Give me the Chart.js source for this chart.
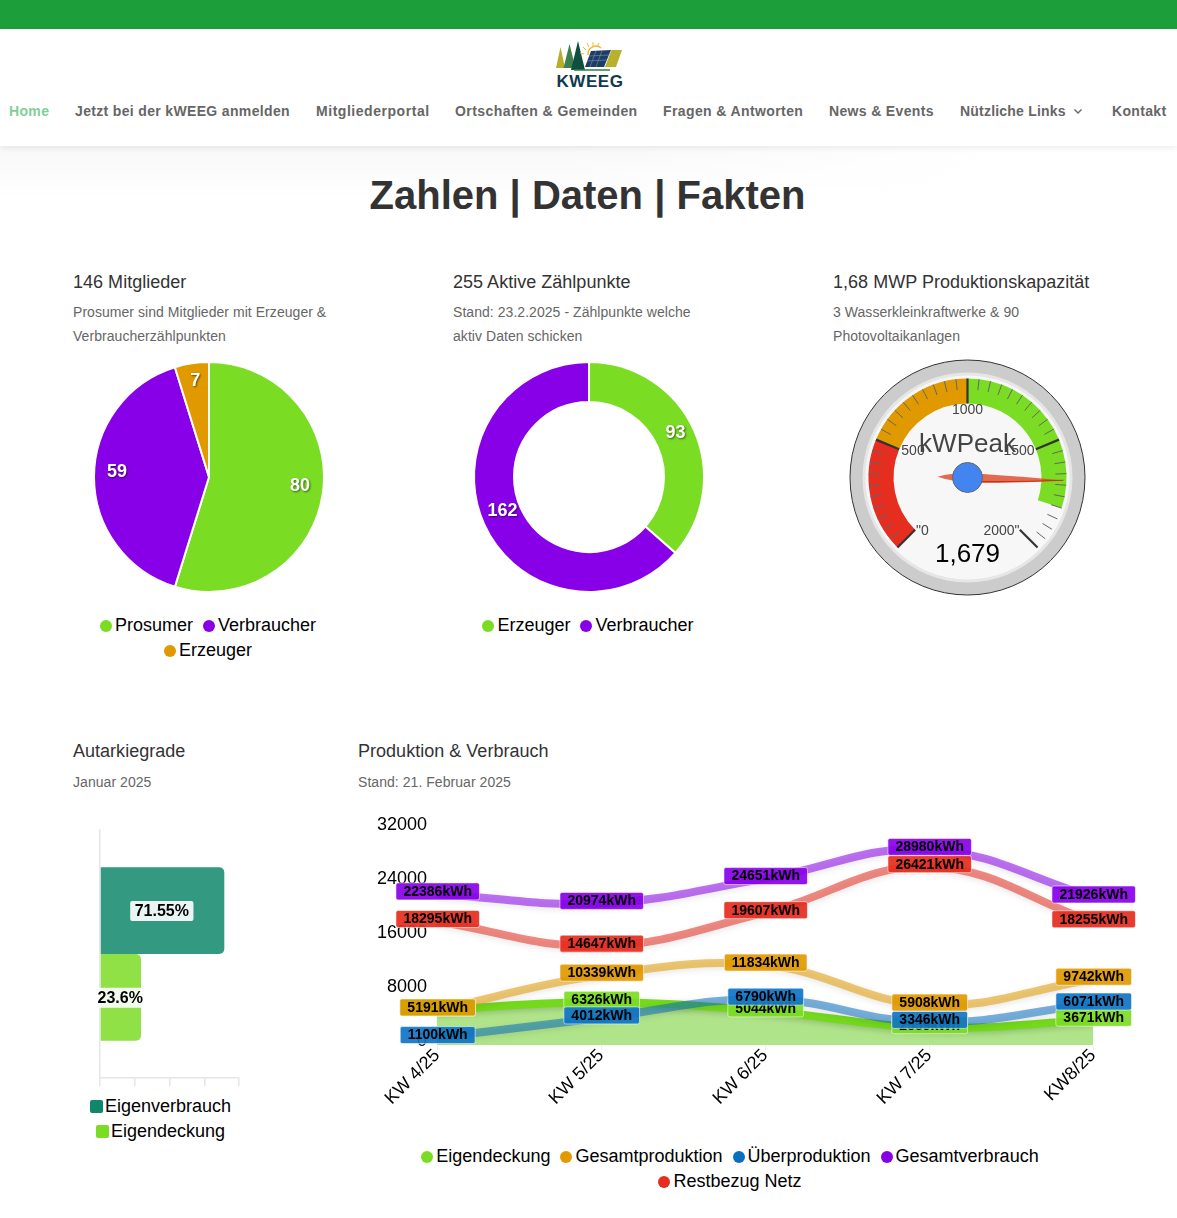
<!DOCTYPE html>
<html lang="de">
<head>
<meta charset="utf-8">
<title>Zahlen | Daten | Fakten</title>
<script src="https://cdn.jsdelivr.net/npm/chart.js@4"></script>
<style>
html,body{margin:0;padding:0;background:#fff;overflow:hidden}
body{position:relative;width:1177px;height:1218px;font-family:"Liberation Sans",Arial,sans-serif;color:#333}
.abs{position:absolute;white-space:nowrap}
#bar{left:0;top:0;width:1177px;height:29px;background:#1c9f3b}
#head{left:0;top:29px;width:1177px;height:117px;background:#fff;box-shadow:0 2px 6px rgba(0,0,0,.08);z-index:2}
#fade{left:0;top:146px;width:1177px;height:55px;background:linear-gradient(to right,rgba(255,255,255,0) 45%,#fff 85%),linear-gradient(to bottom,#f8f8f8,#fff)}
.nav{top:101px;line-height:20px;font-size:14px;font-weight:bold;color:#666;letter-spacing:.34px;z-index:3}
h1{margin:0;left:0;width:1175px;text-align:center;top:170px;line-height:50px;font-size:40px;font-weight:bold;color:#333}
.h3{font-size:18px;line-height:22px;color:#333;letter-spacing:.02px}
.sub{font-size:14px;line-height:24px;color:#666;letter-spacing:.05px}
canvas{position:absolute;display:block}
.lg{position:absolute;display:flex;flex-wrap:wrap;justify-content:center;column-gap:10px;font-size:18px;line-height:25px;color:#000}
.lg span{display:inline-flex;align-items:center;white-space:nowrap}
.lg i{display:inline-block;width:12px;height:12px;border-radius:50%;margin-right:3px}
.lg.sq i{width:13px;height:13px;border-radius:2px;margin-right:2px}
</style>
</head>
<body>
<div class="abs" id="bar"></div>
<div class="abs" id="head"></div>
<div class="abs" id="fade"></div>

<svg class="abs" style="left:552px;top:38px;z-index:3" width="76" height="54" viewBox="0 0 76 54">
  <polygon points="8.5,9 13,30 4,30" fill="#b6ad2b"/>
  <polygon points="17.5,6 23.5,30 11.5,30" fill="#3f7f4e"/>
  <polygon points="26,3 33,32 19,32" fill="#0f4f3f"/>
  <g stroke="#f0b93a" stroke-width="1"><path d="M34 12 L31 9"/><path d="M37 9 L35 5"/><path d="M41 8 L41 4"/><path d="M45 9 L47 5"/><path d="M32 16 L28 15"/></g>
  <path d="M36 17 A8 8 0 0 1 49 10" stroke="#f0b93a" stroke-width="1.5" fill="none"/>
  <polygon points="39,13 59,12 52,29 33,29" fill="#1d3c66"/>
  <g stroke="#7f93ad" stroke-width=".6"><path d="M37 18 L57 17"/><path d="M35 23 L55 22"/><path d="M44 13 L38 29"/><path d="M50 12.6 L44 29"/></g>
  <polygon points="59.5,12 70,12 64,29 53,29" fill="#b9b02f"/>
  <path d="M22 32 H58" stroke="#2f7f3f" stroke-width="1.5"/>
  <text x="38" y="49" text-anchor="middle" font-family="Liberation Sans" font-weight="bold" font-size="17" letter-spacing=".6" fill="#10384f">KWEEG</text>
</svg>

<div class="abs nav" style="left:9px;color:#7fcf96">Home</div>
<div class="abs nav" style="left:75px">Jetzt bei der kWEEG anmelden</div>
<div class="abs nav" style="left:316px;letter-spacing:.54px">Mitgliederportal</div>
<div class="abs nav" style="left:455px;letter-spacing:.43px">Ortschaften &amp; Gemeinden</div>
<div class="abs nav" style="left:663px;letter-spacing:.39px">Fragen &amp; Antworten</div>
<div class="abs nav" style="left:829px">News &amp; Events</div>
<div class="abs nav" style="left:960px;letter-spacing:.21px">Nützliche Links</div>
<svg class="abs" style="left:1073px;top:108px;z-index:3" width="10" height="7"><path d="M1.5 1.5 L5 5 L8.5 1.5" stroke="#666" stroke-width="1.4" fill="none"/></svg>
<div class="abs nav" style="left:1112px">Kontakt</div>

<h1 class="abs">Zahlen | Daten | Fakten</h1>

<div class="abs h3" style="left:73px;top:271px">146 Mitglieder</div>
<div class="abs sub" style="left:73px;top:300px">Prosumer sind Mitglieder mit Erzeuger &amp;<br>Verbraucherzählpunkten</div>
<div class="abs h3" style="left:453px;top:271px">255 Aktive Zählpunkte</div>
<div class="abs sub" style="left:453px;top:300px">Stand: 23.2.2025 - Zählpunkte welche<br>aktiv Daten schicken</div>
<div class="abs h3" style="left:833px;top:271px">1,68 MWP Produktionskapazität</div>
<div class="abs sub" style="left:833px;top:300px">3 Wasserkleinkraftwerke &amp; 90<br>Photovoltaikanlagen</div>
<div class="abs h3" style="left:73px;top:740px">Autarkiegrade</div>
<div class="abs sub" style="left:73px;top:770px">Januar 2025</div>
<div class="abs h3" style="left:358px;top:740px">Produktion &amp; Verbrauch</div>
<div class="abs sub" style="left:358px;top:770px">Stand: 21. Februar 2025</div>

<canvas id="pieMembers" style="left:73px;top:356px;width:272px;height:242px"></canvas>
<div class="lg" id="lgMembers" style="left:72px;top:613px;width:272px"></div>
<canvas id="pieMeters" style="left:453px;top:356px;width:272px;height:242px"></canvas>
<div class="lg" id="lgMeters" style="left:452px;top:613px;width:272px"></div>
<canvas id="gauge" style="left:833px;top:357px;width:269px;height:241px"></canvas>
<canvas id="autarky" style="left:90px;top:820px;width:160px;height:266px"></canvas>
<div class="lg sq" id="lgAutarky" style="left:73px;top:1094px;width:175px"></div>
<canvas id="energy" style="left:320px;top:810px;width:820px;height:310px"></canvas>
<div class="lg" id="lgEnergy" style="left:380px;top:1144px;width:700px"></div>

<script>
// ---------- data ----------
const memberLabels = ['Prosumer', 'Verbraucher', 'Erzeuger'];
const memberValues = [80, 59, 7];
const meterLabels = ['Erzeuger', 'Verbraucher'];
const meterValues = [93, 162];

const gaugeValue = 1679;
const gaugeMax = 2000;
const gaugeBands = [500, 500, 800, 200, 666.67]; // red, orange, green, open, hidden part of the dial
const gaugeTickLabels = ['"0', '500', '1000', '1500', '2000"'];
const gaugeTitle = 'kWPeak';
const gaugeReadout = '1,679';

const autarkyCategory = ['Januar 2025'];
const autarkyOwnUse = [71.55];
const autarkyCoverage = [23.6];

const weeks = ['KW 4/25', 'KW 5/25', 'KW 6/25', 'KW 7/25', 'KW8/25'];
const eigendeckung = [5191, 6326, 5044, 2559, 3671];
const gesamtproduktion = [5191, 10339, 11834, 5908, 9742];
const ueberproduktion = [1100, 4012, 6790, 3346, 6071];
const gesamtverbrauch = [22386, 20974, 24651, 28980, 21926];
const restbezug = [18295, 14647, 19607, 26421, 18255];
const energyTicks = [0, 8000, 16000, 24000, 32000];

// ---------- palette ----------
const GREEN = '#7bdc24', PURPLE = '#8800e8', ORANGE = '#e09a00', BLUE = '#0b6fc0', RED = '#e52d20', TEAL = '#10876b';
const FONT = '"Liberation Sans", Arial, sans-serif';
function rgba(hex, a) {
  const n = parseInt(hex.slice(1), 16);
  return `rgba(${n >> 16},${(n >> 8) & 255},${n & 255},${a})`;
}
Chart.defaults.animation = false;
Chart.defaults.font.family = FONT;
Chart.defaults.color = '#000';
Chart.defaults.devicePixelRatio = 1;
Chart.defaults.responsive = false;

function legend(id, labels, colors) {
  document.getElementById(id).innerHTML = labels.map((t, i) =>
    `<span><i style="background:${colors[i]}"></i>${t}</span>`).join('');
}
function setSize(id) {
  const c = document.getElementById(id);
  c.width = parseFloat(c.style.width);
  c.height = parseFloat(c.style.height);
  return c;
}

// ---------- value labels on the round charts ----------
const arcValueLabels = {
  id: 'arcValueLabels',
  afterDatasetsDraw(chart) {
    const { ctx } = chart;
    const meta = chart.getDatasetMeta(0);
    const values = chart.data.datasets[0].data;
    ctx.save();
    ctx.font = 'bold 18px ' + FONT;
    ctx.textAlign = 'center';
    ctx.textBaseline = 'middle';
    ctx.fillStyle = '#fff';
    ctx.shadowColor = 'rgba(0,0,0,.55)';
    ctx.shadowBlur = 2;
    ctx.shadowOffsetX = 1;
    ctx.shadowOffsetY = 1;
    meta.data.forEach((arc, i) => {
      const p = arc.getProps(['x', 'y', 'startAngle', 'endAngle', 'innerRadius', 'outerRadius'], true);
      const mid = (p.startAngle + p.endAngle) / 2;
      const r = p.innerRadius > 0 ? (p.innerRadius + p.outerRadius) / 2 : p.outerRadius * 0.8;
      ctx.fillText(values[i], p.x + Math.cos(mid) * r, p.y + Math.sin(mid) * r - 5);
    });
    ctx.restore();
  }
};

const roundOptions = (cutout) => ({
  radius: 115,
  cutout,
  layout: { padding: 0 },
  plugins: { legend: { display: false }, tooltip: { enabled: false } }
});

setSize('pieMembers');
new Chart('pieMembers', {
  type: 'pie',
  data: { labels: memberLabels, datasets: [{ data: memberValues, backgroundColor: [GREEN, PURPLE, ORANGE], borderColor: '#fff', borderWidth: 2 }] },
  options: roundOptions(0),
  plugins: [arcValueLabels]
});
legend('lgMembers', memberLabels, [GREEN, PURPLE, ORANGE]);

setSize('pieMeters');
new Chart('pieMeters', {
  type: 'doughnut',
  data: { labels: meterLabels, datasets: [{ data: meterValues, backgroundColor: [GREEN, PURPLE], borderColor: '#fff', borderWidth: 2 }] },
  options: roundOptions('65.2%'),
  plugins: [arcValueLabels]
});
legend('lgMeters', meterLabels, [GREEN, PURPLE]);

// ---------- gauge ----------
const dialAngle = v => (-225 + v / gaugeMax * 270) * Math.PI / 180;
const gaugeDial = {
  id: 'gaugeDial',
  beforeDatasetsDraw(chart) {
    const { ctx } = chart;
    const arc = chart.getDatasetMeta(0).data[0];
    const cx = arc.x, cy = arc.y;
    const disc = (r, fill, stroke) => {
      ctx.beginPath(); ctx.arc(cx, cy, r, 0, Math.PI * 2);
      ctx.fillStyle = fill; ctx.fill();
      if (stroke) { ctx.strokeStyle = stroke; ctx.lineWidth = 1; ctx.stroke(); }
    };
    ctx.save();
    disc(117.5, '#ccc', '#333');
    disc(105, '#e6e6e6');
    disc(102, '#f7f7f7');
    ctx.restore();
  },
  afterDatasetsDraw(chart) {
    const { ctx } = chart;
    const arc = chart.getDatasetMeta(0).data[0];
    const cx = arc.x, cy = arc.y;
    ctx.save();
    // ticks
    for (let v = 0; v <= gaugeMax; v += 50) {
      const major = v % 500 === 0;
      const a = dialAngle(v);
      const r0 = major ? 74 : 88, r1 = 99;
      ctx.beginPath();
      ctx.moveTo(cx + Math.cos(a) * r0, cy + Math.sin(a) * r0);
      ctx.lineTo(cx + Math.cos(a) * r1, cy + Math.sin(a) * r1);
      ctx.strokeStyle = major ? '#333' : '#666';
      ctx.lineWidth = major ? 2.2 : 1;
      ctx.stroke();
    }
    // tick labels
    const offs = [[-45, 54], [-54.5, -26], [0, -67], [51.5, -26], [34, 54]];
    ctx.textAlign = 'center';
    ctx.textBaseline = 'middle';
    ctx.font = '14px ' + FONT;
    ctx.fillStyle = '#444';
    gaugeTickLabels.forEach((t, i) => ctx.fillText(t, cx + offs[i][0], cy + offs[i][1]));
    ctx.font = '26px ' + FONT;
    ctx.fillStyle = '#444';
    ctx.fillText(gaugeTitle, cx, cy - 33);
    ctx.fillStyle = '#000';
    ctx.fillText(gaugeReadout, cx, cy + 77);
    // needle
    const a = dialAngle(gaugeValue);
    ctx.translate(cx, cy);
    ctx.rotate(a);
    ctx.beginPath();
    ctx.moveTo(-30, 0);
    ctx.quadraticCurveTo(-10, -6, 12, -4);
    ctx.quadraticCurveTo(60, -2, 96, 0);
    ctx.quadraticCurveTo(40, 5, 10, 5);
    ctx.quadraticCurveTo(-14, 5, -30, 0);
    ctx.fillStyle = 'rgba(220,70,35,.8)';
    ctx.fill();
    ctx.beginPath();
    ctx.moveTo(14, 3.6);
    ctx.quadraticCurveTo(60, 2.6, 96, 0);
    ctx.strokeStyle = '#c9310f';
    ctx.lineWidth = 1;
    ctx.stroke();
    ctx.rotate(-a);
    ctx.beginPath();
    ctx.arc(0, 0, 15, 0, Math.PI * 2);
    ctx.fillStyle = '#4385f0';
    ctx.fill();
    ctx.strokeStyle = '#666';
    ctx.lineWidth = 1;
    ctx.stroke();
    ctx.restore();
  }
};
setSize('gauge');
new Chart('gauge', {
  type: 'doughnut',
  data: { datasets: [{ data: gaugeBands, backgroundColor: [RED, ORANGE, GREEN, 'rgba(0,0,0,0)', 'rgba(0,0,0,0)'], borderWidth: 0 }] },
  options: {
    rotation: -135,
    circumference: 360,
    radius: 99,
    cutout: '74.7%',
    plugins: { legend: { display: false }, tooltip: { enabled: false } }
  },
  plugins: [gaugeDial]
});

// ---------- boxed labels on bar and line charts ----------
function valueBox(ctx, text, x, y, fill, h, pad, stroke) {
  const w = ctx.measureText(text).width + pad * 2;
  ctx.beginPath();
  ctx.roundRect(x - w / 2, y - h / 2, w, h, 2);
  ctx.fillStyle = fill;
  ctx.fill();
  if (stroke) { ctx.strokeStyle = stroke; ctx.lineWidth = 1; ctx.stroke(); }
  ctx.fillStyle = '#000';
  ctx.fillText(text, x, y + 0.5);
}

const barLabels = {
  id: 'barLabels',
  afterDatasetsDraw(chart) {
    const { ctx } = chart;
    ctx.save();
    ctx.font = 'bold 16px ' + FONT;
    ctx.textAlign = 'center';
    ctx.textBaseline = 'middle';
    chart.data.datasets.forEach((ds, i) => {
      const bar = chart.getDatasetMeta(i).data[0];
      const p = bar.getProps(['x', 'y', 'base'], true);
      valueBox(ctx, ds.data[0] + '%', (p.x + p.base) / 2 - 0.7, p.y + 0.4, 'rgba(255,255,255,.9)', 20, 4.5);
    });
    ctx.restore();
  }
};
setSize('autarky');
new Chart('autarky', {
  type: 'bar',
  data: {
    labels: autarkyCategory,
    datasets: [
      { label: 'Eigenverbrauch', data: autarkyOwnUse, backgroundColor: 'rgba(16,135,107,.85)', borderRadius: 5 },
      { label: 'Eigendeckung', data: autarkyCoverage, backgroundColor: 'rgba(123,220,36,.85)', borderRadius: 5 }
    ]
  },
  options: {
    indexAxis: 'y',
    layout: { padding: { left: 10, right: 11, top: 10, bottom: 0 }, autoPadding: false },
    datasets: { bar: { categoryPercentage: 0.7, barPercentage: 1 } },
    scales: {
      x: {
        min: 0, max: 80,
        ticks: { display: false, stepSize: 20 },
        grid: { drawOnChartArea: false, tickLength: 8, color: '#e6e6e6', lineWidth: 1.5 },
        border: { color: '#e6e6e6', width: 1.5 },
        afterFit(s) { s.height = 8; }
      },
      y: {
        ticks: { display: false },
        grid: { display: false },
        border: { color: '#e6e6e6', width: 1.5 },
        afterFit(s) { s.width = 0; }
      }
    },
    plugins: { legend: { display: false }, tooltip: { enabled: false } }
  },
  plugins: [barLabels]
});
legend('lgAutarky', ['Eigenverbrauch', 'Eigendeckung'], [TEAL, GREEN]);

const lineShadow = {
  id: 'lineShadow',
  beforeDatasetDraw(chart) {
    const c = chart.ctx;
    c.save();
    c.shadowColor = 'rgba(0,0,0,.18)';
    c.shadowBlur = 6;
    c.shadowOffsetY = 2;
  },
  afterDatasetDraw(chart) { chart.ctx.restore(); }
};
const lineLabels = {
  id: 'lineLabels',
  afterDatasetsDraw(chart) {
    const { ctx } = chart;
    ctx.save();
    ctx.font = 'bold 14px ' + FONT;
    ctx.textAlign = 'center';
    ctx.textBaseline = 'middle';
    chart.data.datasets.forEach((ds, i) => {
      chart.getDatasetMeta(i).data.forEach((pt, k) => {
        valueBox(ctx, ds.data[k] + 'kWh', pt.x + 0.7, pt.y - 2.5, rgba(ds.labelColor, .92), 17, 7.5, 'rgba(255,255,255,.55)');
      });
    });
    ctx.restore();
  }
};
const seriesLine = (label, data, color, labelColor, alpha, order) => ({
  label, data, labelColor, order,
  borderColor: rgba(color, alpha),
  backgroundColor: 'rgba(0,0,0,0)',
  borderWidth: 8,
  tension: 0.4,
  pointRadius: 0,
  fill: false
});
const energyData = [
  Object.assign(seriesLine('Eigendeckung', eigendeckung, '#74d81c', GREEN, 1, 5), { fill: 'origin', backgroundColor: 'rgba(123,210,60,.6)' }),
  seriesLine('Gesamtproduktion', gesamtproduktion, ORANGE, ORANGE, .55, 4),
  seriesLine('Überproduktion', ueberproduktion, BLUE, '#0f74c4', .55, 3),
  seriesLine('Gesamtverbrauch', gesamtverbrauch, PURPLE, PURPLE, .55, 2),
  seriesLine('Restbezug Netz', restbezug, RED, RED, .55, 1)
];
setSize('energy');
new Chart('energy', {
  type: 'line',
  data: { labels: weeks, datasets: energyData },
  options: {
    layout: { padding: { left: 27, right: 47, top: 19, bottom: 0 }, autoPadding: false },
    scales: {
      x: {
        offset: false,
        grid: { drawOnChartArea: false, tickLength: 5, color: '#eee' },
        border: { display: false },
        ticks: { minRotation: 45, maxRotation: 45, padding: -5, autoSkip: false, font: { size: 18 }, color: '#000' },
        afterFit(s) { s.height = 75; }
      },
      y: {
        min: 0, max: 32000,
        afterBuildTicks(s) { s.ticks = energyTicks.map(value => ({ value })); },
        grid: { display: false },
        border: { display: false },
        ticks: { padding: 2, font: { size: 18, lineHeight: '8px' }, color: '#000', callback: v => [String(v), ''] },
        afterFit(s) { s.width = 90; }
      }
    },
    plugins: { legend: { display: false }, tooltip: { enabled: false } }
  },
  plugins: [lineShadow, lineLabels]
});
legend('lgEnergy', energyData.map(d => d.label), [GREEN, ORANGE, BLUE, PURPLE, RED]);
</script>
</body>
</html>
